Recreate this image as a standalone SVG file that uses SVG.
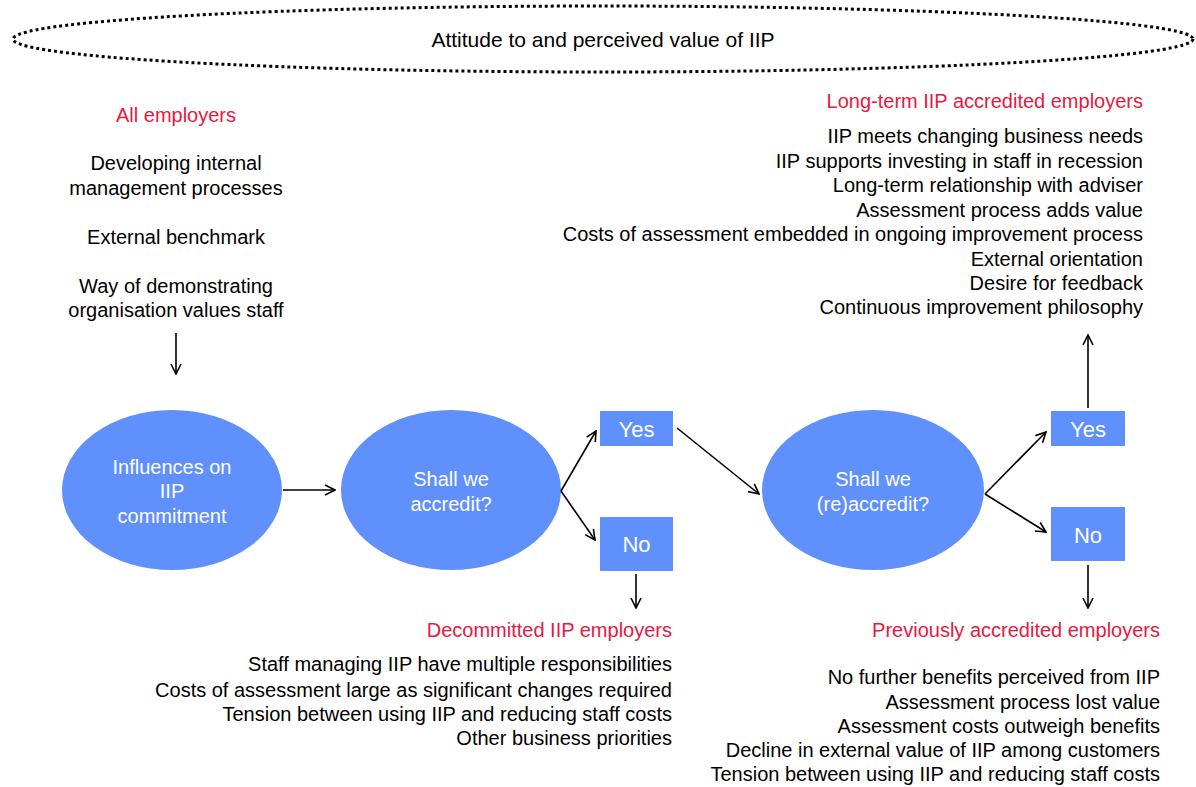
<svg xmlns="http://www.w3.org/2000/svg" width="1196" height="787" viewBox="0 0 1196 787">
<style>
text{font-family:"Liberation Sans",Arial,sans-serif;font-size:20px;fill:#000}
.red{fill:#e8183f}
.w{fill:#fff}
.node{fill:#6090fc}
.c{text-anchor:middle}
.r{text-anchor:end}
.conn line{stroke:#000;stroke-width:1.6;marker-end:url(#ah)}
</style>
<defs>
<marker id="ah" viewBox="0 0 12 12" refX="11" refY="6" markerWidth="12" markerHeight="12" markerUnits="userSpaceOnUse" orient="auto">
<path d="M1,1 L11,6 L1,11" fill="none" stroke="#000" stroke-width="1.6"/>
</marker>
</defs>
<rect width="1196" height="787" fill="#fff"/>
<g id="attitude">
<ellipse cx="603" cy="39" rx="590" ry="33" fill="none" stroke="#000" stroke-width="3" stroke-dasharray="3,3"/>
<text class="c" x="603" y="47" style="font-size:21px">Attitude to and perceived value of IIP</text>
</g>
<g id="all-employers">
<text class="c red" x="176" y="122">All employers</text>
<text class="c" x="176" y="170">Developing internal</text>
<text class="c" x="176" y="195">management processes</text>
<text class="c" x="176" y="244">External benchmark</text>
<text class="c" x="176" y="293">Way of demonstrating</text>
<text class="c" x="176" y="317">organisation values staff</text>
</g>
<g id="influences">
<ellipse class="node" cx="172" cy="490" rx="110" ry="80"/>
<text class="c w" x="172" y="474">Influences on</text>
<text class="c w" x="172" y="498">IIP</text>
<text class="c w" x="172" y="523">commitment</text>
</g>
<g id="accredit">
<ellipse class="node" cx="451" cy="490" rx="110" ry="80"/>
<text class="c w" x="451" y="486">Shall we</text>
<text class="c w" x="451" y="511">accredit?</text>
</g>
<g id="yes1">
<rect class="node" x="600" y="411" width="73" height="35"/>
<text class="c w" x="636.5" y="437" style="font-size:22px">Yes</text>
</g>
<g id="no1">
<rect class="node" x="600" y="517" width="73" height="54"/>
<text class="c w" x="636.5" y="552" style="font-size:22px">No</text>
</g>
<g id="reaccredit">
<ellipse class="node" cx="873" cy="490" rx="111" ry="80"/>
<text class="c w" x="873" y="486">Shall we</text>
<text class="c w" x="873" y="511">(re)accredit?</text>
</g>
<g id="yes2">
<rect class="node" x="1051" y="411" width="74" height="35"/>
<text class="c w" x="1088" y="437" style="font-size:22px">Yes</text>
</g>
<g id="no2">
<rect class="node" x="1051" y="507" width="74" height="54"/>
<text class="c w" x="1088" y="543" style="font-size:22px">No</text>
</g>
<g id="long-term">
<text class="r red" x="1143" y="108">Long-term IIP accredited employers</text>
<text class="r" x="1143" y="143">IIP meets changing business needs</text>
<text class="r" x="1143" y="168">IIP supports investing in staff in recession</text>
<text class="r" x="1143" y="192">Long-term relationship with adviser</text>
<text class="r" x="1143" y="217">Assessment process adds value</text>
<text class="r" x="1143" y="241">Costs of assessment embedded in ongoing improvement process</text>
<text class="r" x="1143" y="266">External orientation</text>
<text class="r" x="1143" y="290">Desire for feedback</text>
<text class="r" x="1143" y="314">Continuous improvement philosophy</text>
</g>
<g id="decommitted">
<text class="r red" x="672" y="637">Decommitted IIP employers</text>
<text class="r" x="672" y="671">Staff managing IIP have multiple responsibilities</text>
<text class="r" x="672" y="697">Costs of assessment large as significant changes required</text>
<text class="r" x="672" y="721">Tension between using IIP and reducing staff costs</text>
<text class="r" x="672" y="745">Other business priorities</text>
</g>
<g id="previously">
<text class="r red" x="1160" y="637">Previously accredited employers</text>
<text class="r" x="1160" y="684">No further benefits perceived from IIP</text>
<text class="r" x="1160" y="709">Assessment process lost value</text>
<text class="r" x="1160" y="733">Assessment costs outweigh benefits</text>
<text class="r" x="1160" y="757">Decline in external value of IIP among customers</text>
<text class="r" x="1160" y="781">Tension between using IIP and reducing staff costs</text>
</g>
<g id="connectors" class="conn">
<line x1="176" y1="333" x2="176" y2="374"/>
<line x1="283" y1="490" x2="335" y2="490"/>
<line x1="561" y1="491" x2="596" y2="431"/>
<line x1="561" y1="491" x2="595" y2="540"/>
<line x1="677" y1="428" x2="759" y2="494"/>
<line x1="636" y1="574" x2="636" y2="608"/>
<line x1="985" y1="494" x2="1046" y2="432"/>
<line x1="985" y1="494" x2="1046" y2="532"/>
<line x1="1088" y1="408" x2="1088" y2="335"/>
<line x1="1088" y1="565" x2="1088" y2="608"/>
</g>
</svg>
